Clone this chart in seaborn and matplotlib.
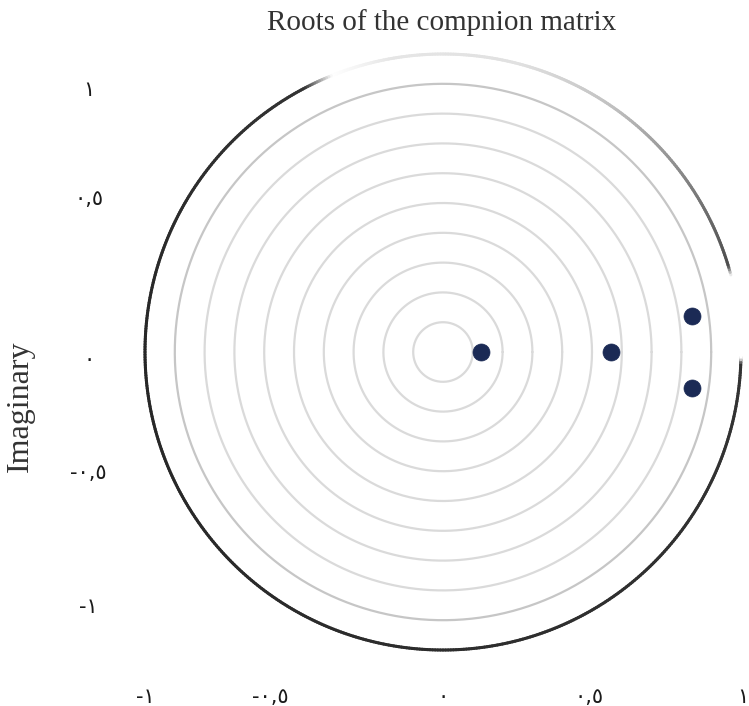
import numpy as np
import pandas as pd
import matplotlib
matplotlib.use("Agg")
import matplotlib.pyplot as plt
from matplotlib.collections import LineCollection
import seaborn as sns

# ---- data ----
root_real = [0.128, 0.564, 0.836, 0.836]
root_imag = [0.0, 0.0, 0.121, -0.121]
ring_radii = [0.1, 0.2, 0.3, 0.4, 0.5, 0.6, 0.7, 0.8, 0.9]
xtick_pos = [-1.0, -0.58, 0.0, 0.49, 1.005]
xtick_labels = ["-١", "-٠,٥", "٠", "٠,٥", "١"]
ytick_pos = [0.885, 0.52, -0.02, -0.40, -0.85]
ytick_labels = ["١", "٠,٥", "٠", "-٠,٥", "-١"]
title = "Roots of the compnion matrix"
ylabel = "Imaginary"

sns.set_theme(style="white")
plt.rcParams["font.family"] = ["Liberation Serif", "DejaVu Sans"]

fig = plt.figure(figsize=(7.49, 7.06), dpi=100)
ax = fig.add_axes([0.1538, 0.0371, 0.8753, 0.9286])
ax.set_xlim(-1.1, 1.1)
ax.set_ylim(-1.1, 1.1)

# concentric guide rings
t = np.linspace(0, 2 * np.pi, 400)
for r in ring_radii:
    col = "#c6c6c6" if r == 0.9 else "#dadada"
    ax.plot(r * np.cos(t), r * np.sin(t), color=col, lw=1.6, zorder=1)

# unit circle with shading that varies around the rim
ang = np.linspace(-180, 180, 721)
stops_a = [-180, -2, -1, 15, 17, 30, 55, 75, 100, 112, 118, 180]
stops_g = [0.15, 0.2, 1.0, 1.0, 0.3, 0.45, 0.75, 0.88, 0.9, 1.0, 0.2, 0.15]
gray = np.interp(ang, stops_a, stops_g)
xs = np.cos(np.radians(ang))
ys = np.sin(np.radians(ang))
pts = np.column_stack([xs, ys]).reshape(-1, 1, 2)
segs = np.concatenate([pts[:-1], pts[1:]], axis=1)
g = (gray[:-1] + gray[1:]) / 2
colors = [(v, v, v, 1.0) for v in g]
ax.add_collection(LineCollection(segs, colors=colors, linewidths=2.2,
                                 capstyle="round", joinstyle="round", zorder=2))

df = pd.DataFrame({"Real": root_real, "Imaginary": root_imag})
sns.scatterplot(data=df, x="Real", y="Imaginary", ax=ax, s=150,
                color="#1b2a55", edgecolor="#1b2a55", linewidth=0.5, zorder=3)

for s in ax.spines.values():
    s.set_visible(False)
ax.grid(False)
ax.set_xlabel("")
ax.set_ylabel(ylabel, fontsize=23, color="#333333", family="Liberation Serif")
ax.yaxis.set_label_coords(-0.122, 0.418)

ax.set_xticks(xtick_pos)
ax.set_xticklabels(xtick_labels, fontsize=15, family="DejaVu Sans", color="#1a1a1a")
ax.set_yticks(ytick_pos)
ax.set_yticklabels(ytick_labels, fontsize=15, family="DejaVu Sans", color="#1a1a1a",
                   ha="center")
ax.tick_params(axis="x", length=0, pad=5)
ax.tick_params(axis="y", length=0, pad=19)

fig.text(442 / 749, 1 - 23 / 706, title, ha="center", va="center", fontsize=21,
         color="#333333", family="Liberation Serif")

fig.savefig("out.png", dpi=100)
